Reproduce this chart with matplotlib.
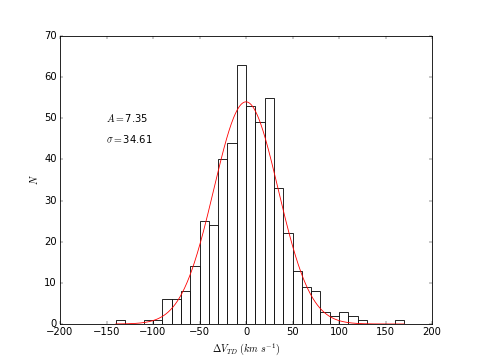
import numpy as np
import matplotlib
matplotlib.use('Agg')
import matplotlib.pyplot as plt

plt.style.use('classic')

# bin left edges (km/s) and counts
bin_left = [-140, -110, -100, -90, -80, -70, -60, -50, -40, -30, -20, -10,
            0, 10, 20, 30, 40, 50, 60, 70, 80, 90, 100, 110, 120, 160]
counts = [1, 1, 1, 6, 6, 8, 14, 25, 24, 40, 44, 63,
          53, 49, 55, 33, 22, 13, 9, 8, 3, 2, 3, 2, 1, 1]
bin_width = 10

# gaussian fit parameters
fit_peak = 54.0
fit_mu = 0.0
fit_sigma = 34.61
fit_label_A = 7.35

fig = plt.figure(figsize=(8, 6), dpi=60)
ax = fig.add_subplot(111)
fig.subplots_adjust(left=0.125, right=0.9, bottom=0.1, top=0.9)

ax.bar(bin_left, counts, width=bin_width, align='edge',
       color='white', edgecolor='black', linewidth=1)

x = np.linspace(-140, 170, 500)
ax.plot(x, fit_peak * np.exp(-0.5 * ((x - fit_mu) / fit_sigma) ** 2), 'r-', linewidth=1)

ax.text(-150, 50, r'$A=$' + f'{fit_label_A}', fontsize=12, va='center')
ax.text(-150, 45, r'$\sigma=$' + f'{fit_sigma}', fontsize=12, va='center')

ax.set_xlim(-200, 200)
ax.set_ylim(0, 70)
ax.set_xlabel(r'$\Delta V_{TD}\ (km\ s^{-1})$')
ax.set_ylabel(r'$N$')

plt.savefig('out.png', dpi=60)
